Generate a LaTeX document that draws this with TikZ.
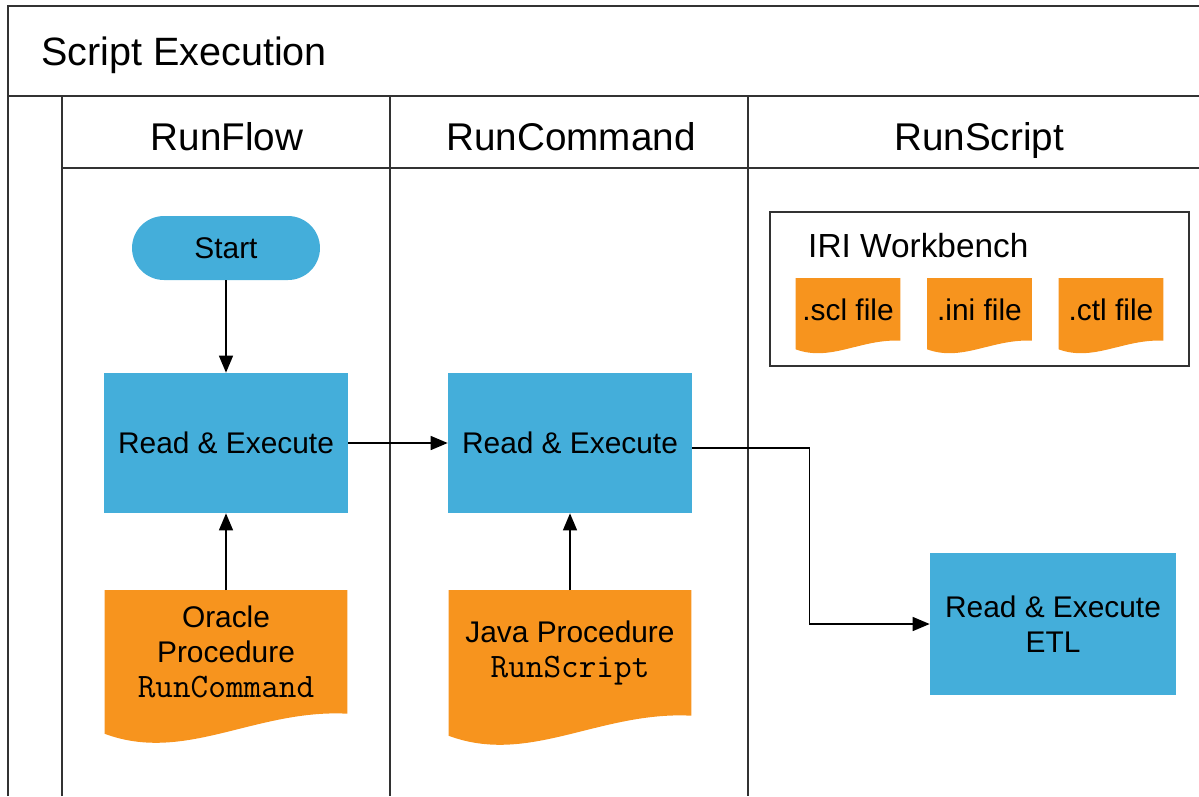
\documentclass[tikz,border=0pt]{standalone}
\usepackage{fontspec}
\setmainfont{Liberation Sans}
\usetikzlibrary{arrows.meta,calc,backgrounds}

\definecolor{flowblue}{RGB}{68,174,218}
\definecolor{docorange}{RGB}{247,148,30}
\definecolor{framegray}{RGB}{50,50,50}

\newcommand{\code}[1]{{\ttfamily\fontsize{19.5}{20}\selectfont #1}}

\tikzset{
  lane/.style={draw=framegray, line width=0.9pt},
  laneheader/.style={anchor=base, font=\fontsize{22}{26}\selectfont},
  process/.style={fill=flowblue, inner sep=0pt, align=center,
    minimum width=4.88cm, minimum height=2.8cm, font=\fontsize{17}{20}\selectfont},
  startbox/.style={fill=flowblue, rounded corners=0.64cm, minimum width=3.76cm,
    minimum height=1.28cm, font=\fontsize{17}{20}\selectfont},
  docbox/.style={anchor=north, inner sep=0pt, align=center, font=\fontsize{17}{20}\selectfont},
  arr/.style={-{Triangle[length=0.34cm,width=0.28cm]}, line width=0.8pt},
}

\newcommand{\docwave}[2]{%
  \fill[docorange] (#1.north west) -- (#1.north east) -- (#1.south east)
    .. controls ($(#1.south east)+(-0.38*#2,0.02*#2)$) and ($(#1.south east)+(-0.67*#2,-0.207*#2)$)
    .. ($(#1.south west)+(0,-0.083*#2)$) -- cycle;}

\begin{document}
\begin{tikzpicture}[x=0.02cm,y=-0.02cm]
    \useasboundingbox (0,0) rectangle (1199,796);

    \draw[lane] (8,796) -- (8,6) -- (1199,6);
    \draw[lane] (8,96) -- (1199,96);
    \draw[lane] (62,796) -- (62,96);
    \draw[lane] (62,168) -- (1199,168);
    \foreach \x in {390,748}
        {\draw[lane] (\x,96) -- (\x,796);}

    \node[anchor=base west, font=\fontsize{22.5}{26}\selectfont] (title) at (35,65) {Script Execution};
    \foreach \x/\name/\txt in {227/hflow/RunFlow, 571/hcmd/RunCommand, 979/hscript/RunScript}
        {\node[laneheader] (\name) at (\x,150) {\txt};}

    \node[startbox] (start) at (226,248) {Start};
    \node[process] (rex1) at (226,443) {Read \& Execute};
    \node[process] (rex2) at (570,443) {Read \& Execute};
    \node[process, minimum width=4.92cm, minimum height=2.84cm] (etl) at (1053,624) {Read \& Execute\\ETL};

    \node[docbox, minimum width=4.84cm, minimum height=2.46cm] (oracle) at (226,590)
        {Oracle\\Procedure\\\code{RunCommand}};
    \node[docbox, minimum width=4.84cm, minimum height=2.5cm] (java) at (570,590)
        {Java Procedure\\\code{RunScript}};

    \node[draw=framegray, line width=0.9pt, minimum width=8.38cm, minimum height=3.08cm] (workbench) at (979.5,289) {};
    \node[anchor=base west, font=\fontsize{19}{23}\selectfont] (wbtitle) at (802,257) {IRI Workbench};
    \foreach \x/\name/\txt in {848/scl/.scl file, 979.5/ini/.ini file, 1111/ctl/.ctl file}
        {\node[docbox, minimum width=2.08cm, minimum height=1.24cm] (\name) at (\x,278) {\txt};}

    \begin{scope}[on background layer]
        \foreach \n/\w in {oracle/4.84cm, java/4.84cm, scl/2.08cm, ini/2.08cm, ctl/2.08cm}
            {\docwave{\n}{\w}}
    \end{scope}

    \draw[arr] (start.south) -- (rex1.north);
    \draw[arr] (oracle.north) -- (rex1.south);
    \draw[arr] (rex1.east) -- (rex2.west);
    \draw[arr] (java.north) -- (rex2.south);
    \draw[arr] ([yshift=-0.1cm]rex2.east) -- ++(117,0) |- (etl.west);
\end{tikzpicture}
\end{document}
